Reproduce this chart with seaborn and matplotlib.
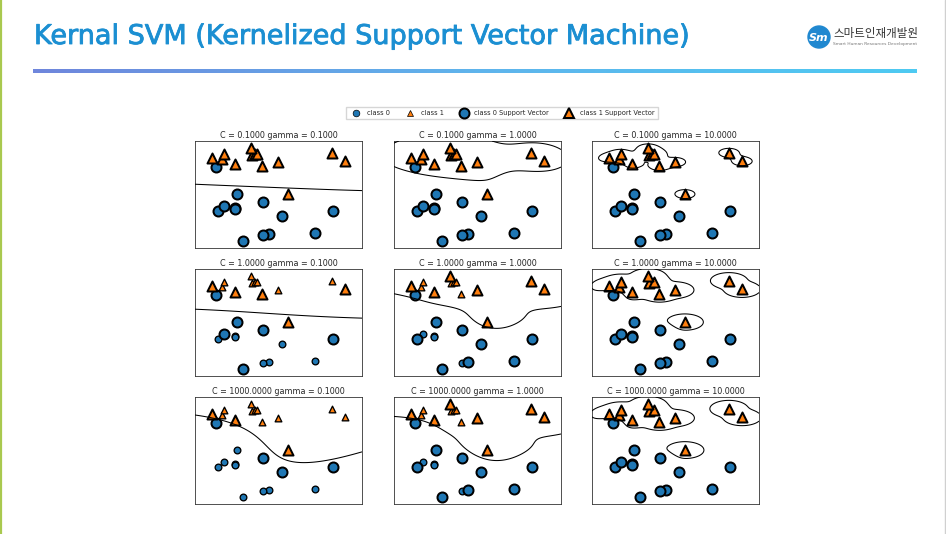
import numpy as np
import matplotlib
matplotlib.use('Agg')
import matplotlib.pyplot as plt
import matplotlib.patheffects as pe
from matplotlib.lines import Line2D
from matplotlib.patches import Circle
from matplotlib.colors import LinearSegmentedColormap
import seaborn as sns

# ============================================================================
# DATA (forge dataset)
# ============================================================================
x_vals = np.array([9.96346605, 11.0329545, 11.54155807, 8.69289001, 8.1062269,
                   8.30988863, 11.93027136, 9.67284681, 8.34810316, 8.67494727,
                   9.17748385, 10.24028948, 8.68937095, 8.92229526, 9.49123469,
                   9.25694192, 7.99815287, 8.18378052, 8.7337095, 9.32298256,
                   10.06393839, 9.50048972, 8.34468785, 9.50169345, 9.15072323,
                   11.563957])
y_vals = np.array([4.59676542, -0.16816717, 5.21116083, 1.54322016, 4.28695977,
                   4.80623966, 4.64866327, -0.20283165, 5.13415623, 4.47573059,
                   5.09283177, 2.45544401, 1.48709629, -0.63993225, 4.33224792,
                   5.13284858, 4.8525051, 1.29564214, 2.49162431, 5.09840649,
                   0.99078055, -0.26430318, 1.63824349, 1.93824624, 5.49832246,
                   1.3389402])
labels = np.array([1, 0, 1, 0, 0, 1, 1, 0, 1, 1, 1, 1, 0, 0, 1, 1, 1, 0, 0, 1,
                   0, 0, 0, 0, 1, 0])

log_C_list = [-1, 0, 3]
log_gamma_list = [-1, 0, 1]
legend_labels = ["class 0", "class 1", "class 0 Support Vector", "class 1 Support Vector"]
slide_title = "Kernal SVM (Kernelized Support Vector Machine)"
logo_kr = "스마트인재개발원"
logo_en = "Smart Human Resources Development"

COLORS = ['#1f77b4', '#ff7f0e']
MARKERS = ['o', '^']


# ============================================================================
# RBF SVM (SMO, libsvm style working set selection)
# ============================================================================
def rbf(A, B, gamma):
    d = ((A[:, None, :] - B[None, :, :]) ** 2).sum(-1)
    return np.exp(-gamma * d)


def fit_svm(X, t, C, gamma, tol=1e-3, max_iter=200000):
    n = len(t)
    Q = (t[:, None] * t[None, :]) * rbf(X, X, gamma)
    a = np.zeros(n)
    G = -np.ones(n)
    for _ in range(max_iter):
        up = ((t > 0) & (a < C)) | ((t < 0) & (a > 0))
        low = ((t > 0) & (a > 0)) | ((t < 0) & (a < C))
        f = -t * G
        iu = np.where(up)[0]
        il = np.where(low)[0]
        i = iu[np.argmax(f[iu])]
        j = il[np.argmin(f[il])]
        if f[i] - f[j] < tol:
            break
        ai_old, aj_old = a[i], a[j]
        if t[i] != t[j]:
            quad = max(Q[i, i] + Q[j, j] + 2 * Q[i, j], 1e-12)
            delta = (-G[i] - G[j]) / quad
            diff = a[i] - a[j]
            a[i] += delta
            a[j] += delta
            if diff > 0:
                if a[j] < 0:
                    a[j] = 0; a[i] = diff
            else:
                if a[i] < 0:
                    a[i] = 0; a[j] = -diff
            if diff > 0:
                if a[i] > C:
                    a[i] = C; a[j] = C - diff
            else:
                if a[j] > C:
                    a[j] = C; a[i] = C + diff
        else:
            quad = max(Q[i, i] + Q[j, j] - 2 * Q[i, j], 1e-12)
            delta = (G[i] - G[j]) / quad
            s = a[i] + a[j]
            a[i] -= delta
            a[j] += delta
            if s > C:
                if a[i] > C:
                    a[i] = C; a[j] = s - C
            else:
                if a[j] < 0:
                    a[j] = 0; a[i] = s
            if s > C:
                if a[j] > C:
                    a[j] = C; a[i] = s - C
            else:
                if a[i] < 0:
                    a[i] = 0; a[j] = s
        G += Q[:, i] * (a[i] - ai_old) + Q[:, j] * (a[j] - aj_old)
    yG = t * G
    free = (a > 0) & (a < C)
    if free.any():
        rho = yG[free].mean()
    else:
        ub, lb = np.inf, -np.inf
        for k in range(n):
            if a[k] >= C:
                if t[k] < 0: ub = min(ub, yG[k])
                else: lb = max(lb, yG[k])
            elif a[k] <= 0:
                if t[k] > 0: ub = min(ub, yG[k])
                else: lb = max(lb, yG[k])
        rho = (ub + lb) / 2
    return a, rho


# ============================================================================
# FIGURE
# ============================================================================
sns.set_style("white")
plt.rcParams['font.family'] = ['DejaVu Sans']

W, H = 946, 534
fig = plt.figure(figsize=(W / 100, H / 100), dpi=100)
fig.patch.set_facecolor('white')

# slide decoration layer in pixel coordinates
deco = fig.add_axes([0, 0, 1, 1], zorder=-1)
deco.axis('off')
grad = LinearSegmentedColormap.from_list('bar', ['#6f86dc', '#5fb4ec', '#4ecaf2'])
deco.imshow(np.linspace(0, 1, 256)[None, :], extent=[33, 916, 73, 69.5],
            cmap=grad, aspect='auto', interpolation='bilinear')
title_color = '#1b8fd2'
deco.text(34, 37, slide_title, fontsize=19.5, color=title_color,
          family=['DejaVu Sans'], va='center', ha='left',
          path_effects=[pe.withStroke(linewidth=0.6, foreground=title_color)])
deco.add_patch(Circle((819, 37), 11, color='#2088d0'))
deco.text(819, 38, "Sm", fontsize=8, color='white', fontweight='bold', style='italic',
          ha='center', va='center')
deco.text(833, 33, logo_kr, fontsize=8.3, color='#333333',
          family=['Noto Sans CJK KR', 'DejaVu Sans'], ha='left', va='center')
deco.text(833, 44, logo_en, fontsize=3.2, color='#777777', ha='left', va='center')
deco.plot([0.8, 0.8], [0, H], color='#a9c94f', lw=1.6)
deco.plot([945, 945], [0, H], color='#d0d0d0', lw=1.0)
deco.set_xlim(0, W)
deco.set_ylim(H, 0)

# subplot grid (pixel positions of the reference)
col_left = [195, 394, 592]
row_top = [141, 269, 397]
ax_w, ax_h = 167, 107

sc = 0.48  # scale of the original 15x10 figure
ms, ms_sv, mew_sv = 10 * sc, 15 * sc, 3 * sc

X = np.c_[x_vals, y_vals]
t = np.where(labels == 1, 1.0, -1.0)
eps = 0.5
x_min, x_max = x_vals.min() - eps, x_vals.max() + eps
y_min, y_max = y_vals.min() - eps, y_vals.max() + eps
gx = np.linspace(x_min, x_max, 500)
gy = np.linspace(y_min, y_max, 500)
GX, GY = np.meshgrid(gx, gy)
grid = np.c_[GX.ravel(), GY.ravel()]

axes = []
for r, log_C in enumerate(log_C_list):
    row = []
    for c, log_gamma in enumerate(log_gamma_list):
        ax = fig.add_axes([col_left[c] / W, 1 - (row_top[r] + ax_h) / H, ax_w / W, ax_h / H])
        C = 10. ** log_C
        gamma = 10. ** log_gamma
        alpha, rho = fit_svm(X, t, C, gamma)
        dec = (rbf(grid, X, gamma) @ (alpha * t) - rho).reshape(GX.shape)
        ax.contour(GX, GY, dec, levels=[0], colors='black', linewidths=0.75, zorder=5)

        for k in (0, 1):
            m = labels == k
            sns.scatterplot(x=x_vals[m], y=y_vals[m], marker=MARKERS[k], s=ms ** 2,
                            color=COLORS[k], edgecolor='black', linewidth=0.96,
                            ax=ax, legend=False, zorder=2)
        sv = alpha > 0
        for k in (0, 1):
            m = sv & (labels == k)
            sns.scatterplot(x=x_vals[m], y=y_vals[m], marker=MARKERS[k], s=ms_sv ** 2,
                            color=COLORS[k], edgecolor='black', linewidth=mew_sv,
                            ax=ax, legend=False, zorder=3)

        ax.set_xlim(x_min, x_max)
        ax.set_ylim(y_min, y_max)
        ax.set_xticks(())
        ax.set_yticks(())
        ax.set_xlabel('')
        ax.set_ylabel('')
        for sp in ax.spines.values():
            sp.set_linewidth(0.6)
            sp.set_color('#333333')
        ax.set_title("C = %.4f gamma = %.4f" % (C, gamma), fontsize=5.8, pad=2.5)
        row.append(ax)
    axes.append(row)

handles = [
    Line2D([], [], ls='none', marker='o', ms=ms, color=COLORS[0], mec='black', mew=0.5),
    Line2D([], [], ls='none', marker='^', ms=ms, color=COLORS[1], mec='black', mew=0.5),
    Line2D([], [], ls='none', marker='o', ms=ms_sv, color=COLORS[0], mec='black', mew=mew_sv),
    Line2D([], [], ls='none', marker='^', ms=ms_sv, color=COLORS[1], mec='black', mew=mew_sv),
]
axes[0][0].legend(handles, legend_labels, ncol=4, loc='center',
                  bbox_to_anchor=(502 / W, 1 - 113 / H), bbox_transform=fig.transFigure,
                  fontsize=4.8, frameon=True, fancybox=False, edgecolor='#cccccc',
                  borderpad=0.5, handletextpad=0.6, columnspacing=2.0)

fig.savefig('out.png', dpi=100, facecolor='white')
